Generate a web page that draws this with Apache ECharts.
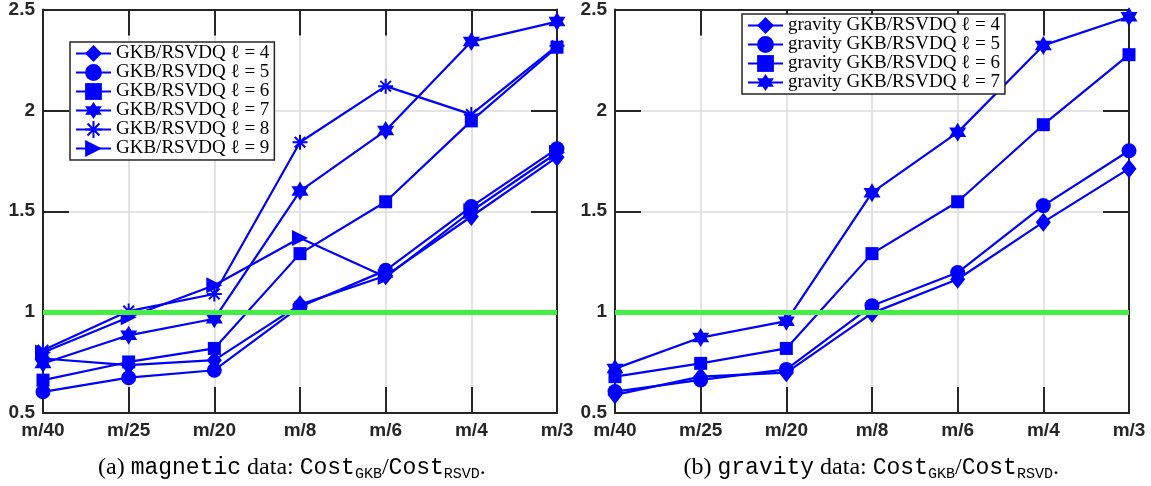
<!DOCTYPE html>
<html>
<head>
<meta charset="utf-8">
<script src="https://cdn.jsdelivr.net/npm/echarts@6/dist/echarts.min.js"></script>
<style>
  html, body { margin: 0; padding: 0; background: #fff; }
  #wrap { position: relative; width: 1151px; height: 486px; }
  #chart { position: absolute; left: 0; top: 0; width: 1151px; height: 486px; }
  .cap { position: absolute; top: 453px; line-height: 26px; font-family: 'Liberation Serif', serif; font-size: 24px; color: #000; white-space: nowrap; }
  .tt { font-family: 'Liberation Mono', monospace; font-size: 23px; }
  .sub { font-family: 'Liberation Mono', monospace; font-size: 15px; position: relative; top: 4px; }
</style>
</head>
<body>
<div id="wrap">
  <div id="chart"></div>
  <div class="cap" id="capA">(a) <span class="tt">magnetic</span> data: <span class="tt">Cost</span><span class="sub">GKB</span>/<span class="tt">Cost</span><span class="sub">RSVD</span>.</div>
  <div class="cap" id="capB">(b) <span class="tt">gravity</span> data: <span class="tt">Cost</span><span class="sub">GKB</span>/<span class="tt">Cost</span><span class="sub">RSVD</span>.</div>
</div>
<script>
// Sketch sizes (m = number of measurements)
const categories = ['m/40', 'm/25', 'm/20', 'm/8', 'm/6', 'm/4', 'm/3'];

// Cost ratio GKB / RSVDQ, magnetic data
const magL4 = [0.770, 0.737, 0.762, 1.037, 1.180, 1.474, 1.768];
const magL5 = [0.605, 0.675, 0.712, 1.027, 1.207, 1.523, 1.810];
const magL6 = [0.663, 0.753, 0.820, 1.290, 1.547, 1.948, 2.313];
const magL7 = [0.745, 0.885, 0.967, 1.600, 1.900, 2.341, 2.440];
const magL8 = [0.811, 1.005, 1.090, 1.842, 2.120, 1.980, 2.320];
const magL9 = [0.800, 0.975, 1.133, 1.367, 1.174, 1.500, 1.790];

// Cost ratio GKB / RSVDQ, gravity data
const gravL4 = [0.590, 0.680, 0.700, 0.995, 1.163, 1.446, 1.711];
const gravL5 = [0.606, 0.664, 0.716, 1.032, 1.196, 1.528, 1.800];
const gravL6 = [0.680, 0.746, 0.820, 1.290, 1.547, 1.929, 2.276];
const gravL7 = [0.720, 0.874, 0.955, 1.592, 1.891, 2.322, 2.464];

// Value axis range and break-even reference
const yMin = 0.5, yMax = 2.5, yStep = 0.5;
const breakEven = 1;

const magNames = [4, 5, 6, 7, 8, 9].map(l => 'GKB/RSVDQ ℓ = ' + l);
const gravNames = [4, 5, 6, 7].map(l => 'gravity GKB/RSVDQ ℓ = ' + l);

const BLUE = '#0000ff';
const AX = '#262626';

const hexagram = 'path://M0,-10 L2.887,-5 L8.66,-5 L5.774,0 L8.66,5 L2.887,5 L0,10 L-2.887,5 L-8.66,5 L-5.774,0 L-8.66,-5 L-2.887,-5 Z';
const asterisk = 'path://M0,-10 L0,10 M-10,0 L10,0 M-7.07,-7.07 L7.07,7.07 M-7.07,7.07 L7.07,-7.07';
const triRight = 'path://M0,0 L10,5 L0,10 Z';

const markers = [
  { symbol: 'diamond', size: [15, 19] },
  { symbol: 'circle', size: 15 },
  { symbol: 'rect', size: 13 },
  { symbol: hexagram, size: [17, 19] },
  { symbol: asterisk, size: 15, stroke: true },
  { symbol: triRight, size: [16, 16] }
];

const grids = [
  { left: 43, top: 7, width: 514, height: 406 },
  { left: 615, top: 7, width: 514, height: 406 }
];

const tickFont = { color: AX, fontFamily: 'Liberation Sans', fontWeight: 'bold', fontSize: 19 };

function xAxes(gi) {
  return [
    {
      type: 'category', gridIndex: gi, data: categories, boundaryGap: false, position: 'bottom',
      axisLine: { show: true, lineStyle: { color: AX, width: 2 } },
      axisTick: { show: true, inside: true, length: 26, lineStyle: { color: AX, width: 2 } },
      axisLabel: Object.assign({ margin: 8 }, tickFont),
      splitLine: { show: true, lineStyle: { color: '#dcdcdc', width: 1.6 } }
    },
    {
      type: 'category', gridIndex: gi, data: categories, boundaryGap: false, position: 'top',
      axisLine: { show: true, lineStyle: { color: AX, width: 2 } },
      axisTick: { show: true, inside: true, length: 26, lineStyle: { color: AX, width: 2 } },
      axisLabel: { show: false },
      splitLine: { show: false }
    }
  ];
}

function yAxes(gi) {
  const base = {
    type: 'value', gridIndex: gi, min: yMin, max: yMax, interval: yStep,
    axisLine: { show: true, lineStyle: { color: AX, width: 2 } },
    axisTick: { show: true, inside: true, length: 26, lineStyle: { color: AX, width: 2 } }
  };
  return [
    Object.assign({}, base, {
      position: 'left',
      axisLabel: Object.assign({ margin: 8 }, tickFont),
      splitLine: { show: true, lineStyle: { color: '#dcdcdc', width: 1.6 } }
    }),
    Object.assign({}, base, {
      position: 'right',
      axisLabel: { show: false },
      splitLine: { show: false }
    })
  ];
}

function makeSeries(name, data, mi, gi) {
  const m = markers[mi];
  return {
    name: name, type: 'line', data: data,
    xAxisIndex: gi * 2, yAxisIndex: gi * 2,
    symbol: m.symbol, symbolSize: m.size, showSymbol: true,
    lineStyle: { color: BLUE, width: 2.2 },
    itemStyle: m.stroke
      ? { color: BLUE, borderColor: BLUE, borderWidth: 2 }
      : { color: BLUE, borderWidth: 0 },
    emphasis: { disabled: true },
    z: 3
  };
}

function refLine() {
  return {
    silent: true, symbol: ['none', 'none'], label: { show: false },
    lineStyle: { color: '#44ee44', width: 5, type: 'solid', opacity: 1 },
    emphasis: { disabled: true },
    data: [{ yAxis: breakEven }]
  };
}

const magData = [magL4, magL5, magL6, magL7, magL8, magL9];
const gravData = [gravL4, gravL5, gravL6, gravL7];

const series = [];
magData.forEach((d, i) => series.push(makeSeries(magNames[i], d, i, 0)));
gravData.forEach((d, i) => series.push(makeSeries(gravNames[i], d, i, 1)));
series[0].markLine = refLine();
series[magData.length].markLine = refLine();

const legendBase = {
  orient: 'vertical', itemWidth: 35, itemHeight: 21, itemGap: 0,
  backgroundColor: '#fff', borderColor: AX, borderWidth: 1.5, borderRadius: 0,
  padding: [2, 5, 2, 5], selectedMode: false,
  textStyle: { fontFamily: 'Liberation Serif', fontSize: 19, color: '#000' }
};

const option = {
  animation: false,
  backgroundColor: '#fff',
  grid: grids,
  xAxis: xAxes(0).concat(xAxes(1)),
  yAxis: yAxes(0).concat(yAxes(1)),
  legend: [
    Object.assign({}, legendBase, { left: 70, top: 42, data: magNames }),
    Object.assign({}, legendBase, { left: 742, top: 14, data: gravNames })
  ],
  series: series
};

const chart = echarts.init(document.getElementById('chart'), null, { renderer: 'canvas' });
chart.setOption(option);

// centre each caption under its panel
function placeCaption(id, cx) {
  const el = document.getElementById(id);
  el.style.left = (cx - el.offsetWidth / 2) + 'px';
}
placeCaption('capA', 292);
placeCaption('capB', 871);
</script>
</body>
</html>
